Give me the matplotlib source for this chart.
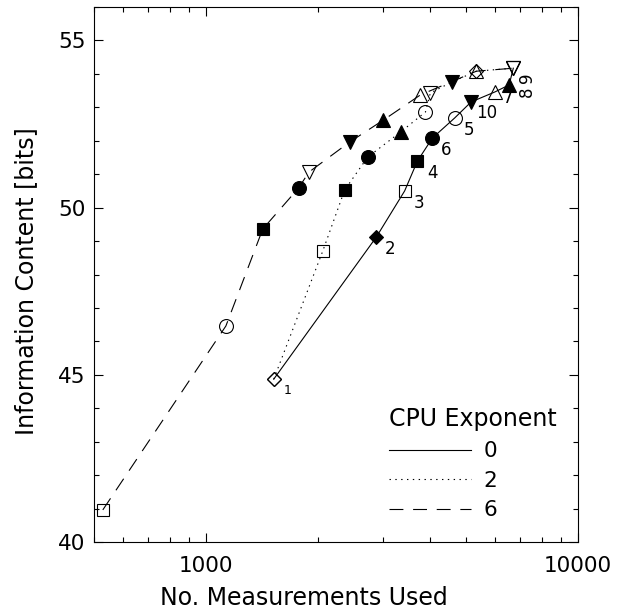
import matplotlib
matplotlib.use('Agg')
import matplotlib.pyplot as plt
from matplotlib.lines import Line2D
from matplotlib.ticker import MultipleLocator, LogLocator, NullFormatter

plt.rcParams['font.family'] = ['DejaVu Sans']
plt.rcParams['lines.scale_dashes'] = False

# CPU exponent 0 (solid)
x0 = [1521, 2870, 3420, 3700, 4060, 4660, 5160, 5980, 6530, 6700]
y0 = [44.87, 49.12, 50.50, 51.39, 52.08, 52.68, 53.16, 53.46, 53.67, 54.17]
m0 = ['D', 'D', 's', 's', 'o', 'o', 'v', '^', '^', 'v']
f0 = [False, True, False, True, True, False, True, False, True, False]
lab0 = ['1', '2', '3', '4', '6', '5', '10', '7', '8', '9']

# CPU exponent 2 (dotted)
x2 = [1521, 2060, 2360, 2720, 3335, 3890, 4010, 4590, 5330, 6700]
y2 = [44.87, 48.70, 50.53, 51.51, 52.26, 52.86, 53.43, 53.76, 54.08, 54.17]
m2 = ['D', 's', 's', 'o', '^', 'o', 'v', 'v', '^', 'v']
f2 = [False, False, True, True, True, False, False, True, False, False]

# CPU exponent 6 (dashed)
x6 = [528, 1131, 1421, 1775, 1890, 2432, 3000, 3770, 5330, 6700]
y6 = [40.96, 46.46, 49.36, 50.59, 51.06, 51.96, 52.62, 53.37, 54.08, 54.17]
m6 = ['s', 'o', 's', 'o', 'v', 'v', '^', '^', 'D', 'v']
f6 = [False, False, True, True, False, True, True, False, False, False]

legend_title = 'CPU Exponent'
legend_labels = ['0', '2', '6']

W, H = 619, 612
fig = plt.figure(figsize=(W / 100, H / 100), dpi=100)
ax = fig.add_axes([94 / W, (H - 542) / H, (578 - 94) / W, (542 - 7) / H])

styles = [dict(linestyle='-'),
          dict(linestyle=(0, (1.0, 3.2))),
          dict(linestyle=(0, (10, 7)))]
msize = {'o': 10, 's': 8, 'D': 7, '^': 10, 'v': 10}

def draw(xs, ys, ms, fs, st):
    ax.plot(xs, ys, color='black', lw=0.8, **st)
    for xi, yi, mi, fi in zip(xs, ys, ms, fs):
        ax.plot([xi], [yi], marker=mi, markersize=msize[mi], linestyle='none',
                markerfacecolor='black' if fi else 'none',
                markeredgecolor='black', markeredgewidth=0.8)

draw(x6, y6, m6, f6, styles[2])
draw(x2, y2, m2, f2, styles[1])
draw(x0, y0, m0, f0, styles[0])

offsets = {'1': (10, -8), '2': (10, -8.5), '3': (10, -8.5), '4': (11, -8.5),
           '6': (10, -8.5), '5': (10, -8.5), '10': (11, -8), '7': (9.5, -4.5),
           '8': (13, -5), '9': (10, -7)}
for xi, yi, lb in zip(x0, y0, lab0):
    ax.annotate(lb, (xi, yi), xytext=offsets[lb], textcoords='offset points',
                ha='center', va='center', fontsize=9 if lb == '1' else 12,
                rotation=90 if lb in ('8', '9') else 0)

ax.set_xscale('log')
ax.set_xlim(500, 10000)
ax.set_ylim(40, 56)
ax.set_xticks([1000, 10000], ['1000', '10000'])
ax.xaxis.set_minor_locator(LogLocator(base=10, subs=range(2, 10)))
ax.xaxis.set_minor_formatter(NullFormatter())
ax.set_yticks([40, 45, 50, 55])
ax.yaxis.set_minor_locator(MultipleLocator(1))
ax.tick_params(which='both', direction='in', top=True, right=True, width=0.8,
               labelsize=15.5)
ax.tick_params(which='major', length=6.5)
ax.tick_params(which='minor', length=3.6)
ax.tick_params(axis='y', pad=6)
ax.tick_params(axis='x', pad=10)
for s in ax.spines.values():
    s.set_linewidth(0.8)

ax.set_xlabel('No. Measurements Used', fontsize=17)
ax.set_ylabel('Information Content [bits]', fontsize=17)
ax.xaxis.set_label_coords(0.434, -0.082)
ax.yaxis.set_label_coords(-0.115, 0.488)

handles = [Line2D([], [], color='black', lw=0.8, **st) for st in styles]
ax.legend(handles, legend_labels, title=legend_title, fontsize=15.5,
          title_fontsize=17, frameon=False, loc='lower right',
          alignment='left', handlelength=3.8, handletextpad=0.6,
          labelspacing=0.45, borderaxespad=0.6)

fig.savefig('out.png', dpi=100)
